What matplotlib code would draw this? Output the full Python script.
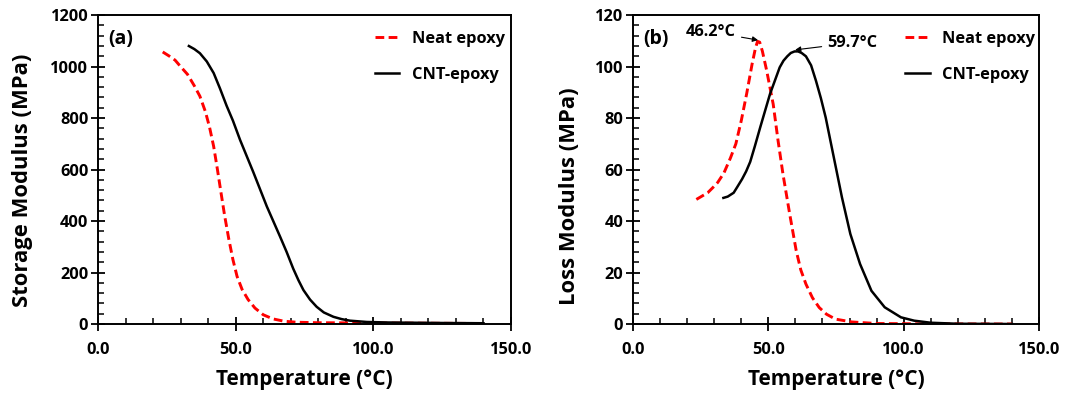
import matplotlib.pyplot as plt
from matplotlib.ticker import MultipleLocator, FormatStrFormatter

plt.rcParams['font.family'] = ['Open Sans', 'DejaVu Sans']
plt.rcParams['font.weight'] = 'bold'

# (a) storage modulus
neat_T_a = [23.5, 26, 28, 30, 32.5, 35, 37, 39, 40.5, 42, 43.3, 44.6, 46, 47.5, 49, 50.5,
            52.3, 54.5, 57, 60, 63.5, 67.5, 72, 80, 100, 120, 140]
neat_E_a = [1057, 1040, 1025, 1000, 970, 925, 885, 825, 765, 690, 605, 515, 420, 330, 250, 185,
            135, 95, 62, 36, 20, 11, 7, 5, 4, 3, 2]
cnt_T_a = [33, 35, 37, 39.5, 42, 44.3, 46.7, 49, 51.6, 56.4, 61.3, 66.1, 68.5, 70.9, 72.8,
           74.6, 77, 79.4, 82, 85.5, 88.5, 91.5, 97.6, 105, 115, 125, 140]
cnt_E_a = [1080, 1068, 1052, 1020, 975, 915, 848, 790, 715, 590, 457, 340, 280, 215, 170,
           132, 95, 67, 45, 28, 19, 13, 8, 6, 5, 4, 3]

# (b) loss modulus
neat_T_b = [23.4, 25.5, 27.6, 29.5, 31.3, 33.6, 36.0, 38.0, 40.0, 42.0, 44.0, 45.2, 46.0,
            46.8, 47.8, 49.4, 51.8, 53.6, 55.4, 57.9, 60.3, 62.0, 63.9, 66.3, 68.8, 71.5,
            74.8, 80.9, 90, 110, 140]
neat_E_b = [48.4, 49.7, 51.0, 53.0, 55.0, 58.7, 64.5, 70.0, 79.0, 89.5, 101.0, 107.0, 109.8,
            109.5, 106.0, 98.4, 85.4, 71.2, 58.3, 42.7, 28.5, 21.0, 15.5, 10.2, 6.4, 3.8,
            1.9, 0.8, 0.2, 0.05, 0.0]
cnt_T_b = [33.4, 35.0, 37.2, 38.5, 40.3, 41.8, 43.3, 45.0, 47.0, 50.6, 54.2, 55.6, 57.0,
           58.3, 59.7, 61.0, 62.3, 63.9, 65.8, 67.6, 69.4, 71.2, 74.2, 77.2, 80.3, 83.9,
           88.1, 93.0, 99.0, 103.9, 110, 120, 140]
cnt_E_b = [49.0, 49.5, 51.0, 53.2, 56.3, 59.3, 63.0, 69.0, 76.4, 89.3, 99.7, 102.3, 104.0,
           105.3, 105.9, 105.9, 105.3, 104.0, 100.5, 94.5, 87.8, 80.2, 64.7, 49.2, 35.0, 23.3,
           12.9, 6.5, 2.6, 1.3, 0.5, 0.1, 0.0]

fig = plt.figure(figsize=(10.7, 3.95), dpi=100)
axa = fig.add_axes([0.0916, 0.1797, 0.386, 0.782])
axb = fig.add_axes([0.5916, 0.1797, 0.3794, 0.782])

panels = [
    (axa, neat_T_a, neat_E_a, cnt_T_a, cnt_E_a, 1200, 200, 40, 'Storage Modulus (MPa)', '(a)',
     (-0.157, 0.466)),
    (axb, neat_T_b, neat_E_b, cnt_T_b, cnt_E_b, 120, 20, 4, 'Loss Modulus (MPa)', '(b)',
     (-0.13, 0.414)),
]
for ax, nT, nE, cT, cE, ymax, ymaj, ymin, ylab, tag, ylc in panels:
    ax.plot(nT, nE, color='#ff0000', ls=(0, (3, 1.5)), lw=2.1, label='Neat epoxy')
    ax.plot(cT, cE, color='black', lw=1.8, label='CNT-epoxy')
    ax.set_xlim(0, 150)
    ax.set_ylim(0, ymax)
    ax.xaxis.set_major_locator(MultipleLocator(50))
    ax.xaxis.set_minor_locator(MultipleLocator(10))
    ax.xaxis.set_major_formatter(FormatStrFormatter('%.1f'))
    ax.yaxis.set_major_locator(MultipleLocator(ymaj))
    ax.yaxis.set_minor_locator(MultipleLocator(ymin))
    ax.tick_params(which='major', direction='inout', length=10, width=1.3, labelsize=11.8)
    ax.tick_params(axis='x', which='major', pad=8)
    ax.tick_params(axis='y', which='major', pad=2)
    ax.tick_params(which='minor', direction='in', length=4, width=1.1)
    for s in ax.spines.values():
        s.set_linewidth(1.4)
    ax.set_xlabel('Temperature (°C)', fontsize=15, fontweight='bold', va='top')
    ax.xaxis.set_label_coords(0.5, -0.146)
    ax.set_ylabel(ylab, fontsize=15.8, fontweight='bold')
    ax.yaxis.set_label_coords(*ylc)
    ax.text(0.025, 0.955, tag, transform=ax.transAxes, fontsize=14, fontweight='bold',
            va='top', ha='left')
    ax.legend(loc='upper left', bbox_to_anchor=(0.67, 0.949), frameon=False, fontsize=11.8,
              handlelength=1.5, labelspacing=1.2, borderpad=0, borderaxespad=0,
              handletextpad=0.75)

axb.annotate('46.2°C', xy=(46.2, 110.3), xytext=(28.8, 113.5), fontsize=11.8,
             fontweight='bold', ha='center', va='center',
             arrowprops=dict(arrowstyle='-|>', color='black', lw=0.8, mutation_scale=8,
                             shrinkA=2, shrinkB=0))
axb.annotate('59.7°C', xy=(59.9, 106.5), xytext=(81, 109.2), fontsize=11.8,
             fontweight='bold', ha='center', va='center',
             arrowprops=dict(arrowstyle='-|>', color='black', lw=0.8, mutation_scale=8,
                             shrinkA=2, shrinkB=0))

fig.savefig('out.png', dpi=100)
